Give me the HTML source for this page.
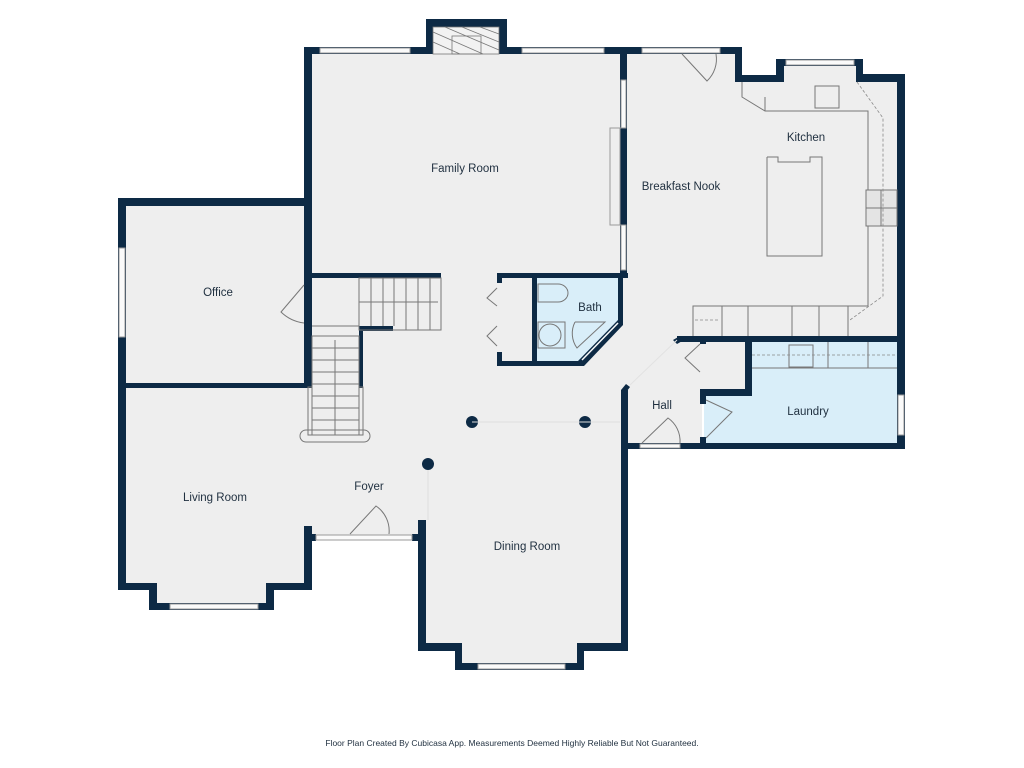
<!DOCTYPE html>
<html><head><meta charset="utf-8"><style>
html,body{margin:0;padding:0;background:#fff;}
svg{display:block;}
text{font-family:"Liberation Sans",sans-serif;fill:#1f2f3f;font-size:11.5px;text-anchor:middle;}
</style></head><body>
<svg width="1024" height="768" viewBox="0 0 1024 768" xmlns="http://www.w3.org/2000/svg">
<g fill="#eeeeee">
<rect x="312" y="54" width="310" height="224"/>
<rect x="126" y="206" width="180" height="180"/>
<rect x="126" y="386" width="180" height="199"/>
<rect x="157" y="583" width="110" height="22"/>
<rect x="306" y="278" width="322" height="258"/>
<rect x="426" y="440" width="196" height="205"/>
<rect x="462" y="643" width="116" height="22"/>
<rect x="624" y="54" width="114" height="290"/>
<rect x="624" y="80" width="274" height="262"/>
<rect x="783" y="60" width="74" height="24"/>
<rect x="624" y="340" width="78" height="106"/>
<rect x="702" y="340" width="46" height="52"/>
</g>
<g fill="#d9eef9">
<rect x="535" y="278" width="88" height="86"/>
<rect x="750" y="342" width="148" height="102"/>
<rect x="704" y="394" width="50" height="50"/>
</g>
<polygon points="580,366 623,320 630,320 630,370" fill="#eeeeee"/>
<g fill="#0d2a45">
<rect x="304" y="47" width="122" height="7"/>
<rect x="426" y="19" width="81" height="35"/>
<rect x="507" y="47" width="235" height="7"/>
<rect x="304" y="47" width="8" height="340"/>
<rect x="304" y="273" width="137" height="5"/>
<rect x="497" y="273" width="131" height="5"/>
<rect x="620" y="47" width="7" height="226"/>
<rect x="618" y="273" width="5" height="49"/>
<rect x="118" y="198" width="194" height="8"/>
<rect x="118" y="198" width="8" height="392"/>
<rect x="118" y="383" width="194" height="5"/>
<rect x="118" y="583" width="39" height="7"/>
<rect x="149" y="583" width="8" height="27"/>
<rect x="149" y="603" width="125" height="7"/>
<rect x="266" y="583" width="8" height="27"/>
<rect x="266" y="583" width="46" height="7"/>
<rect x="304" y="526" width="8" height="64"/>
<rect x="304" y="534" width="12" height="7"/>
<rect x="412" y="534" width="14" height="7"/>
<rect x="418" y="520" width="8" height="131"/>
<rect x="418" y="643" width="44" height="8"/>
<rect x="455" y="643" width="7" height="27"/>
<rect x="455" y="663" width="129" height="7"/>
<rect x="577" y="643" width="7" height="27"/>
<rect x="577" y="643" width="51" height="8"/>
<rect x="621" y="390" width="7" height="261"/>
<rect x="359" y="326" width="4" height="62"/>
<rect x="359" y="326" width="34" height="5"/>
<rect x="497" y="273" width="5" height="10"/>
<rect x="497" y="352" width="5" height="14"/>
<rect x="497" y="361" width="83" height="5"/>
<rect x="532" y="278" width="5" height="88"/>
<polygon points="578,361 618,320 623,320 623,325 584,366 578,366"/>
<rect x="735" y="47" width="7" height="35"/>
<rect x="735" y="75" width="48" height="7"/>
<rect x="776" y="59" width="8" height="23"/>
<rect x="776" y="59" width="87" height="7"/>
<rect x="856" y="59" width="7" height="23"/>
<rect x="856" y="74" width="49" height="8"/>
<rect x="897" y="74" width="8" height="375"/>
<rect x="677" y="336" width="228" height="6"/>
<polygon points="673,340 680,336 684,340 677,344"/>
<rect x="745" y="338" width="7" height="58"/>
<rect x="700" y="389" width="52" height="7"/>
<rect x="700" y="338" width="6" height="6"/>
<rect x="700" y="389" width="6" height="15"/>
<rect x="700" y="437" width="6" height="12"/>
<rect x="621" y="443" width="284" height="6"/>
<polygon points="621,390 626,384 630,387 627,391"/>
<circle cx="472" cy="422" r="6"/>
<circle cx="585" cy="422" r="6"/>
<circle cx="428" cy="464" r="6"/>
</g>
<line x1="582" y1="360" x2="618" y2="323" stroke="#fafafa" stroke-width="1.5"/>
<g fill="#fafafa" stroke="#9a9a9a" stroke-width="1">
<rect x="320" y="48" width="90" height="5"/>
<rect x="522" y="48" width="82" height="5"/>
<rect x="642" y="48" width="78" height="5"/>
<rect x="786" y="60" width="68" height="5"/>
<rect x="119" y="248" width="6" height="89"/>
<rect x="170" y="604" width="88" height="5"/>
<rect x="478" y="664" width="87" height="5"/>
<rect x="316" y="535" width="96" height="5"/>
<rect x="621" y="80" width="5" height="48"/>
<rect x="621" y="225" width="5" height="45"/>
<rect x="898" y="395" width="6" height="40"/>
<rect x="640" y="444" width="40" height="4"/>
<rect x="610" y="128" width="10" height="97" fill="#eeeeee"/>
</g>
<g stroke="#777" stroke-width="0.8" fill="none">
<rect x="433" y="27" width="66" height="27" fill="#f2f2f2"/>
<rect x="452" y="36" width="29" height="18"/>
<line x1="445" y1="27" x2="499" y2="50"/><line x1="433" y1="32" x2="483" y2="54"/><line x1="433" y1="42" x2="460" y2="54"/><line x1="462" y1="27" x2="499" y2="42"/><line x1="480" y1="27" x2="499" y2="34"/>
</g>
<g stroke="#777" stroke-width="1" fill="none">
<rect x="359" y="278" width="82" height="52"/>
<line x1="371" y1="278" x2="371" y2="326"/><line x1="383" y1="278" x2="383" y2="326"/><line x1="394" y1="278" x2="394" y2="326"/><line x1="406" y1="278" x2="406" y2="330"/><line x1="418" y1="278" x2="418" y2="330"/><line x1="430" y1="278" x2="430" y2="330"/>
<line x1="359" y1="302" x2="438" y2="302"/>
<line x1="312" y1="326" x2="359" y2="326"/>
<rect x="312" y="336" width="47" height="99"/>
<line x1="312" y1="348" x2="359" y2="348"/><line x1="312" y1="360" x2="359" y2="360"/><line x1="312" y1="372" x2="359" y2="372"/><line x1="312" y1="384" x2="359" y2="384"/><line x1="312" y1="396" x2="359" y2="396"/><line x1="312" y1="408" x2="359" y2="408"/><line x1="312" y1="420" x2="359" y2="420"/>
<line x1="335" y1="340" x2="335" y2="435"/>
<rect x="300" y="430" width="70" height="12" rx="6"/>
<rect x="308" y="387" width="4" height="48"/><rect x="359" y="387" width="4" height="48"/>
<path d="M304 285 L281 312 A40 40 0 0 0 304 323"/>
<path d="M497 288 L487 298 L497 306 M497 326 L487 336 L497 346"/>
<path d="M350 534 L376 506 A30 30 0 0 1 389 534"/>
<path d="M682 54 L707 81 A30 30 0 0 0 716 54"/>
<path d="M642 443 L668 418 A28 28 0 0 1 680 443"/>
<path d="M706 400 L732 412 L706 438"/>
<path d="M700 344 L685 358 L700 372"/>
<line x1="428" y1="470" x2="428" y2="520" stroke="#ddd"/>
<line x1="472" y1="422" x2="620" y2="422" stroke="#ddd"/>
<line x1="630" y1="385" x2="677" y2="340" stroke="#e2e2e2"/>
<path d="M538 284 H558 A10 9 0 0 1 558 302 H538 Z"/>
<rect x="538" y="322" width="27" height="26"/>
<circle cx="550" cy="335" r="11"/>
<path d="M575 322 H605 L577 348 A25 25 0 0 1 575 322"/>
<polyline points="742,82 742,97 765,111 868,111 868,306 693,306 693,336" />
<line x1="765" y1="97" x2="765" y2="111"/>
<rect x="815" y="86" width="24" height="22"/>
<polyline points="767,157 778,157 778,162 810,162 810,157 822,157 822,256 767,256 767,157"/>
<rect x="866" y="190" width="31" height="36" fill="#e4e4e4"/>
<line x1="881" y1="190" x2="881" y2="226"/><line x1="866" y1="208" x2="897" y2="208"/>
<line x1="748" y1="306" x2="748" y2="336"/><line x1="792" y1="306" x2="792" y2="336"/><line x1="819" y1="306" x2="819" y2="336"/><line x1="848" y1="306" x2="848" y2="336"/><line x1="722" y1="306" x2="722" y2="336"/>
<line x1="752" y1="368" x2="897" y2="368"/>
<rect x="789" y="345" width="24" height="22"/>
<line x1="828" y1="342" x2="828" y2="368"/><line x1="868" y1="342" x2="868" y2="368"/>
</g>
<g stroke="#888" stroke-dasharray="3,2" fill="none" stroke-width="0.8">
<polyline points="857,82 883,118 883,296 850,320"/>
<line x1="752" y1="355" x2="897" y2="355"/>
<line x1="695" y1="320" x2="720" y2="320"/>
</g>
<text x="465" y="172">Family Room</text>
<text x="218" y="296">Office</text>
<text x="590" y="311">Bath</text>
<text x="681" y="190">Breakfast Nook</text>
<text x="806" y="141">Kitchen</text>
<text x="662" y="409">Hall</text>
<text x="808" y="415">Laundry</text>
<text x="215" y="501">Living Room</text>
<text x="369" y="490">Foyer</text>
<text x="527" y="550">Dining Room</text>
<text x="512" y="746" style="font-size:8.5px">Floor Plan Created By Cubicasa App. Measurements Deemed Highly Reliable But Not Guaranteed.</text>
</svg>
</body></html>
